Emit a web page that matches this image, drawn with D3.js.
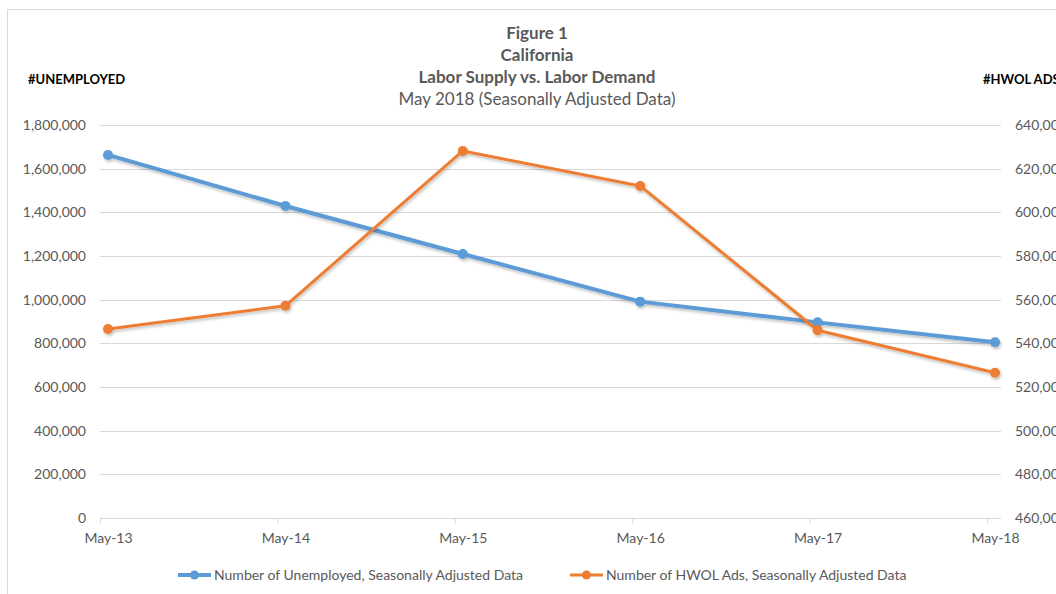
<!DOCTYPE html>
<html><head><meta charset="utf-8">
<script src="https://cdn.jsdelivr.net/npm/d3@7"></script>
<style>body{margin:0;background:#fff;overflow:hidden}svg{display:block}</style>
</head><body>
<script>
const categories = ["May-13","May-14","May-15","May-16","May-17","May-18"];
const unemployed = [1663000,1429000,1209000,991000,896000,805000];
const hwolAds = [546600,557200,628100,612100,546000,526500];
const leftTicks = [0,200000,400000,600000,800000,1000000,1200000,1400000,1600000,1800000];
const rightTicks = [460000,480000,500000,520000,540000,560000,580000,600000,620000,640000];
const titleLines = ["Figure 1","California","Labor Supply vs. Labor Demand","May 2018 (Seasonally Adjusted Data)"];
const seriesNames = ["Number of Unemployed, Seasonally Adjusted Data","Number of HWOL Ads, Seasonally Adjusted Data"];
const colors = ["#5B9BD5","#ED7D31"];

const W=1056,H=594;
const font="Lato, 'Open Sans', sans-serif";
const svg=d3.select("body").append("svg").attr("width",W).attr("height",H);
const defs=svg.append("defs");
const f=defs.append("filter").attr("id","sh").attr("x","-10%").attr("y","-10%").attr("width","120%").attr("height","130%");
f.append("feDropShadow").attr("dx",1).attr("dy",2).attr("stdDeviation",1.5).attr("flood-color","#000").attr("flood-opacity",0.25);

svg.append("rect").attr("x",7.5).attr("y",9.5).attr("width",1100).attr("height",H).attr("fill","#fff").attr("stroke","#d9d9d9");

const x=d3.scalePoint().domain(categories).range([108,995]);
const yL=d3.scaleLinear().domain([0,1800000]).range([518,125]);
const yR=d3.scaleLinear().domain([460000,640000]).range([518,125]);

// gridlines
svg.append("g").selectAll("line").data(leftTicks.slice(1)).join("line")
  .attr("x1",100).attr("x2",1001).attr("y1",d=>Math.round(yL(d))+0.5).attr("y2",d=>Math.round(yL(d))+0.5)
  .attr("stroke","#d9d9d9").attr("stroke-width",1);

// left axis labels
const gl=svg.append("g").attr("transform","translate(100,0)")
  .call(d3.axisLeft(yL).tickValues(leftTicks).tickFormat(d3.format(",")).tickSize(0).tickPadding(14));
gl.select(".domain").remove();
gl.selectAll("text").attr("font-family",font).attr("font-size",14).attr("fill","#595959");

// right axis labels
const gr=svg.append("g").attr("transform","translate(1001,0)")
  .call(d3.axisRight(yR).tickValues(rightTicks).tickFormat(d3.format(",")).tickSize(0).tickPadding(14));
gr.select(".domain").remove();
gr.selectAll("text").attr("font-family",font).attr("font-size",14).attr("fill","#595959");

// x axis
const gx=svg.append("g").attr("transform","translate(0,518.5)")
  .call(d3.axisBottom(x).tickSize(5).tickPadding(10));
gx.select(".domain").attr("d","M100,0H1001").attr("stroke","#d9d9d9");
gx.selectAll(".tick line").attr("stroke","#d9d9d9").attr("transform","translate(-8,0)");
gx.selectAll("text").attr("font-family",font).attr("font-size",14).attr("fill","#595959");

// axis titles
svg.append("text").attr("x",28).attr("y",84).text("#UNEMPLOYED")
  .attr("font-family",font).attr("font-size",13).attr("font-weight","bold").attr("fill","#000");
svg.append("text").attr("x",983).attr("y",84).text("#HWOL ADS")
  .attr("font-family",font).attr("font-size",13).attr("font-weight","bold").attr("fill","#000");

// title
const ty=[39,61,83,105];
titleLines.forEach((t,i)=>{
  svg.append("text").attr("x",537).attr("y",ty[i]).attr("text-anchor","middle").text(t)
    .attr("font-family",font).attr("font-size",17).attr("font-weight",i<3?"bold":"normal").attr("fill","#595959");
});

// series
const seriesData=[{v:unemployed,y:yL,w:4},{v:hwolAds,y:yR,w:3}];
seriesData.forEach((s,i)=>{
  const g=svg.append("g").attr("filter","url(#sh)");
  const line=d3.line().x((d,j)=>x(categories[j])).y(d=>s.y(d));
  g.append("path").datum(s.v).attr("d",line).attr("fill","none").attr("stroke",colors[i]).attr("stroke-width",s.w).attr("stroke-linejoin","round");
  g.selectAll("circle").data(s.v).join("circle").attr("cx",(d,j)=>x(categories[j])).attr("cy",d=>s.y(d)).attr("r",5).attr("fill",colors[i]);
});

// legend
const legX=[178,570];
seriesNames.forEach((n,i)=>{
  const g=svg.append("g").attr("transform",`translate(${legX[i]},575)`);
  g.append("line").attr("x1",0).attr("x2",33).attr("stroke",colors[i]).attr("stroke-width",i===0?4:3);
  g.append("circle").attr("cx",16.5).attr("r",4.5).attr("fill",colors[i]);
  g.append("text").attr("x",36).attr("y",5).text(n).attr("font-family",font).attr("font-size",14).attr("fill","#595959");
});
</script>
</body></html>
